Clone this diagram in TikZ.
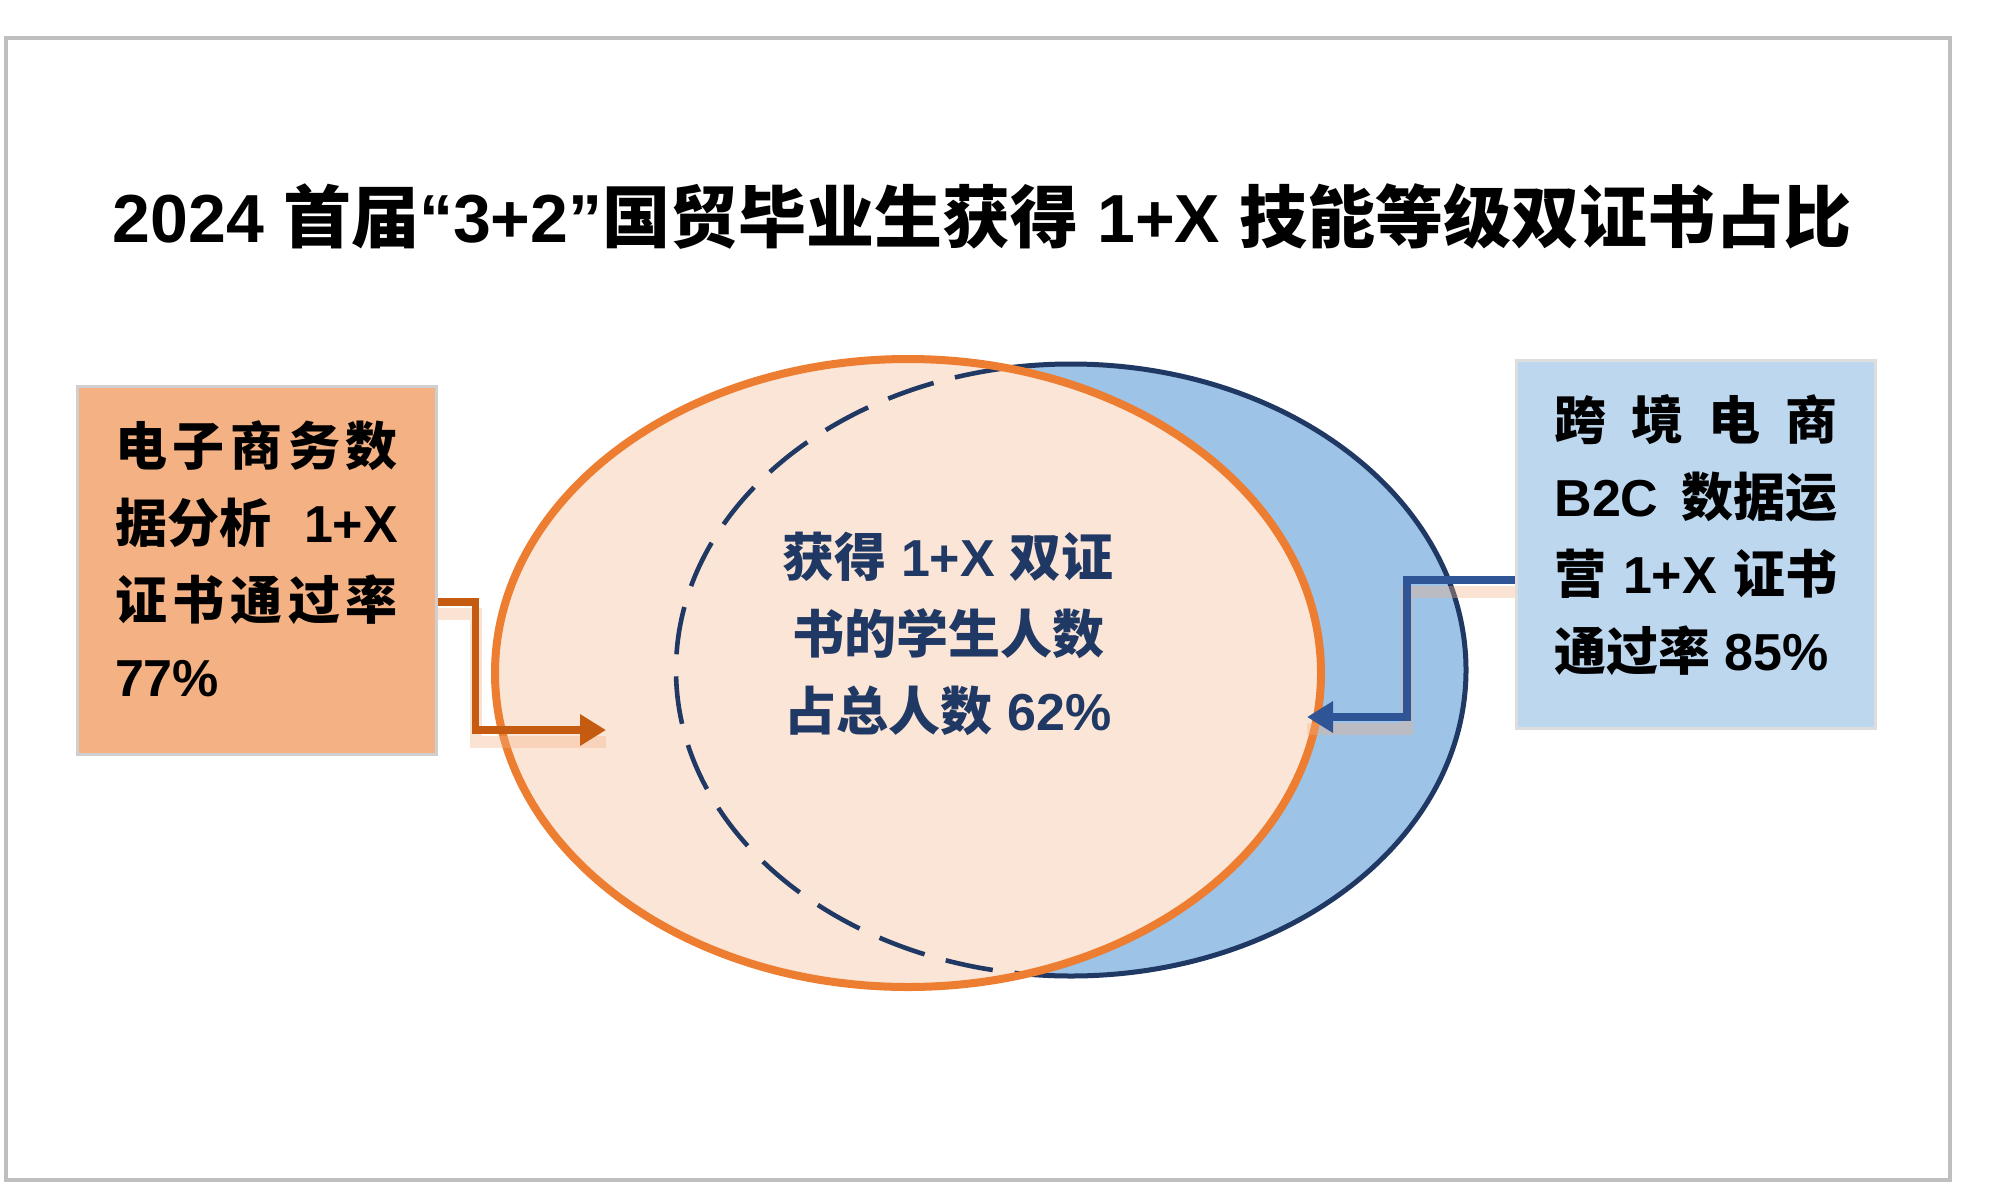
\documentclass[tikz,border=0pt]{standalone}
\usepackage{fontspec}
\setmainfont{Liberation Sans}
\newfontfamily\cjk{Noto Sans CJK SC}
\usetikzlibrary{arrows.meta}
\definecolor{framegray}{HTML}{BFBFBF}
\definecolor{boxgray}{HTML}{D0CECE}
\definecolor{lboxfill}{HTML}{F4B183}
\definecolor{rboxfill}{HTML}{BDD7EE}
\definecolor{ofill}{HTML}{FBE5D6}
\definecolor{ostroke}{HTML}{ED7D31}
\definecolor{bfill}{HTML}{9DC3E6}
\definecolor{bstroke}{HTML}{1F3864}
\definecolor{ctext}{HTML}{203864}
\definecolor{larrowc}{HTML}{C55A11}
\definecolor{rarrowc}{HTML}{2F5597}
\definecolor{shadowc}{HTML}{F4B183}
\tikzset{
  infobox/.style={draw=boxgray, line width=1.5pt, minimum width=179.5pt, minimum height=184pt,
    inner sep=0pt, align=left, font=\bfseries\fontsize{26}{38.5}\selectfont},
  linkarrow/.style={line width=3.8pt, -{Triangle[length=13pt,width=15pt]}},
  glow/.style={line width=6pt, draw=shadowc, opacity=0.35}
}
\begin{document}
\begin{tikzpicture}[x=0.5pt,y=-0.5pt]
\useasboundingbox (0,0) rectangle (2000,1199);
\fill[white] (0,0) rectangle (2000,1199);
\draw[framegray, line width=2pt] (6,38) rectangle (1950,1180);

\node[font=\bfseries\fontsize{34}{40}\selectfont] (title) at (982,217)
  {2024 {\cjk 首届}“3+2”{\cjk 国贸毕业生获得} 1+X {\cjk 技能等级双证书占比}};

% ellipses
\draw[fill=bfill, draw=bstroke, line width=2.5pt] (1071,670) ellipse [x radius=197.5pt, y radius=153pt];
\fill[ofill] (908,673) ellipse [x radius=206.5pt, y radius=157pt];
\begin{scope}
  \clip (908,673) ellipse [x radius=206.5pt, y radius=157pt];
  \draw[bstroke, line width=2.3pt, dash pattern=on 24pt off 11pt, dash phase=4pt]
    (1071,670) ellipse [x radius=197.5pt, y radius=153pt];
\end{scope}
\draw[ostroke, line width=4pt] (908,673) ellipse [x radius=206.5pt, y radius=157pt];

\node[font=\bfseries\fontsize{26}{38.5}\selectfont, text=ctext, align=center] (center) at (948,634)
  {{\cjk 获得} 1+X {\cjk 双证}\\{\cjk 书的学生人数}\\{\cjk 占总人数} 62\%};

% boxes
\node[infobox, fill=lboxfill] (lbox) at (256.5,570)
  {\makebox[141.5pt][s]{\cjk 电\hfill 子\hfill 商\hfill 务\hfill 数}\\
   \makebox[141.5pt][s]{{\cjk 据分析}\hfill 1+X}\\
   \makebox[141.5pt][s]{\cjk 证\hfill 书\hfill 通\hfill 过\hfill 率}\\
   77\%\strut};
\node[infobox, fill=rboxfill, draw=boxgray!70] (rbox) at (1696,544)
  {\makebox[141.5pt][s]{\cjk 跨\hfill 境\hfill 电\hfill 商}\\
   \makebox[141.5pt][s]{B2C\hfill {\cjk 数据运}}\\
   \makebox[141.5pt][s]{{\cjk 营}\hfill 1+X\hfill {\cjk 证书}}\\
   {\cjk 通过率} 85\%\strut};

% arrows
\coordinate (ltip) at (606,730);
\coordinate (rtip) at (1307,717);
\draw[glow] ([yshift=-6pt]lbox.east) ++(0,32) -- ++(38,0) |- ([yshift=-6pt]ltip);
\draw[glow] ([yshift=-6pt]rbox.west) ++(0,36) -- ++(-108,0) |- ([yshift=-6pt]rtip);
\draw[linkarrow, larrowc] ([yshift=-16pt]lbox.east) -- ++(38,0) |- (ltip);
\draw[linkarrow, rarrowc] ([yshift=-18pt]rbox.west) -- ++(-108,0) |- (rtip);
\end{tikzpicture}
\end{document}
